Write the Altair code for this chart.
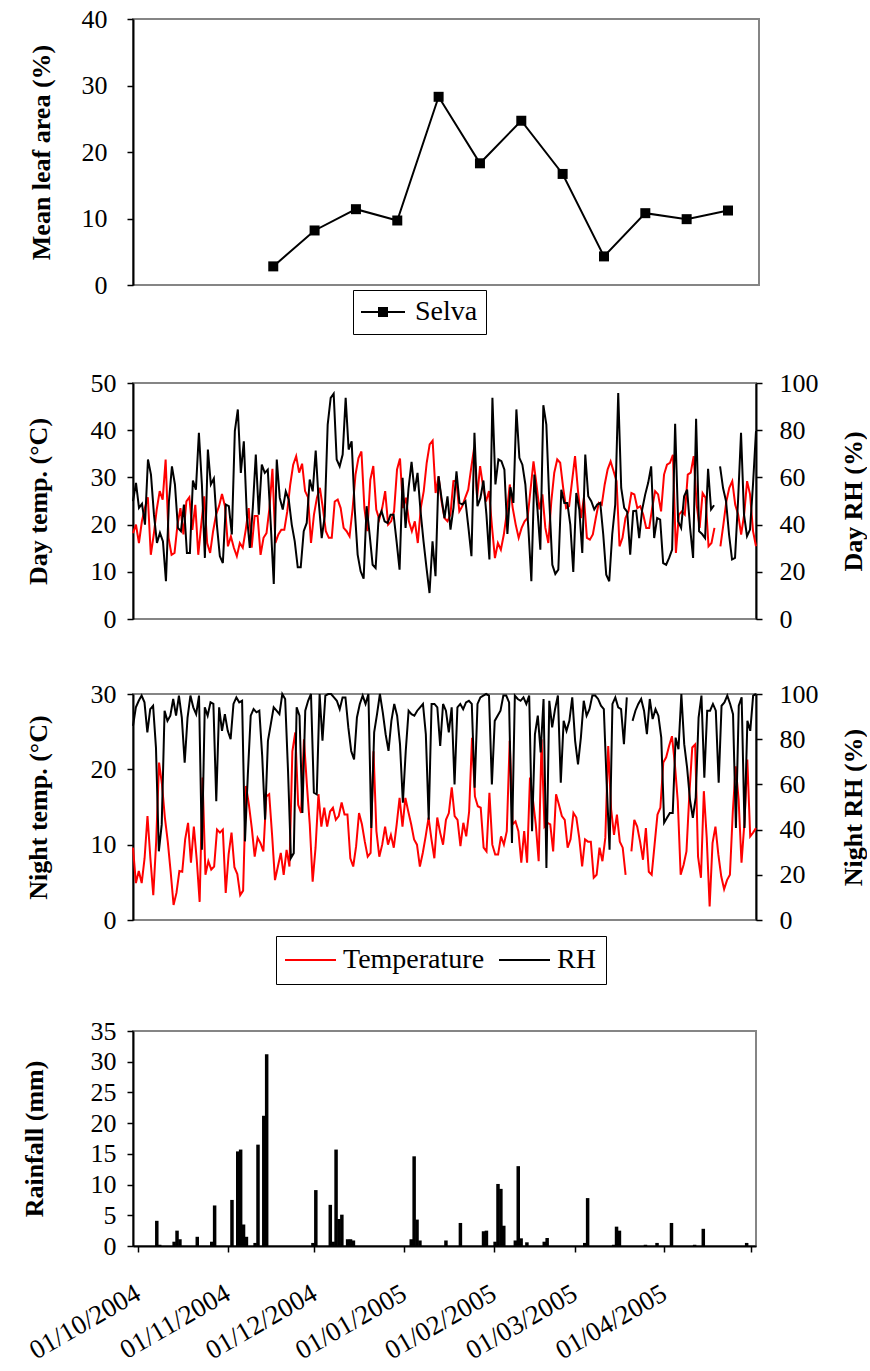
import altair as alt
import pandas as pd
import numpy as np

FONT = "Liberation Serif, Times New Roman, Times, serif"
START = pd.Timestamp("2004-10-01")
N_DAYS = 212

# ---------------- data ----------------
leaf_dates = ["2004-11-17", "2004-12-01", "2004-12-15", "2004-12-29", "2005-01-12", "2005-01-26",
              "2005-02-09", "2005-02-23", "2005-03-09", "2005-03-23", "2005-04-06", "2005-04-20"]
leaf_area = [2.8, 8.2, 11.4, 9.7, 28.3, 18.3, 24.7, 16.7, 4.3, 10.8, 9.9, 11.2]

day_temp = [
    18.2, 20.0, 16.1, 20.7, 23.5, 25.8, 13.6, 17.9, 23.2, 27.1,
    25.3, 33.8, 17.2, 13.6, 14.0, 20.0, 23.5, 17.9, 24.9, 25.8,
    18.9, 24.2, 13.6, 20.0, 26.0, 16.1, 14.0, 18.6, 22.1, 23.9,
    26.5, 23.9, 15.4, 17.5, 15.1, 13.3, 16.1, 15.1, 18.9, 23.5,
    15.1, 21.8, 21.8, 13.6, 17.2, 18.2, 23.5, 31.8, 16.1, 17.9,
    18.9, 18.9, 22.8, 28.5, 32.7, 34.5, 31.0, 32.9, 27.1, 25.8,
    16.1, 22.1, 25.7, 27.8, 23.5, 18.6, 17.2, 17.2, 24.9, 25.3,
    23.5, 19.3, 18.6, 17.5, 23.2, 30.6, 34.1, 35.5, 23.5, 18.6,
    29.5, 32.4, 23.2, 21.1, 23.5, 27.1, 20.0, 20.7, 22.8, 31.7,
    34.0, 23.5, 25.7, 20.7, 18.6, 20.7, 16.1, 23.5, 27.1, 33.1,
    37.0, 37.8, 26.7, 30.2, 24.9,
    21.4, 20.7, 22.1, 29.2, 29.3, 22.8, 23.9, 25.7, 27.4, 32.0,
    36.3, 25.7, 32.4, 28.1, 24.9, 27.1, 19.6, 12.9, 16.1, 14.7,
    17.9, 22.5, 28.5, 23.5, 20.0, 17.2, 19.3, 20.7, 21.4, 27.4,
    33.4, 28.5, 23.2, 26.4, 19.3, 16.1, 24.9, 31.0, 33.8, 33.1,
    27.8, 23.5, 23.9, 29.2, 34.5, 27.1, 21.4, 25.7, 17.2, 16.8,
    17.9, 21.4, 24.6, 24.2, 28.5, 31.7, 33.4, 31.3, 29.2, 15.4,
    17.2, 21.4, 22.8, 26.7, 26.4, 23.5, 23.9, 22.1, 19.3, 19.3,
    23.5, 27.1, 26.4, 22.8, 30.6, 32.7, 33.1, 34.8, 14.0, 22.1,
    22.8, 22.1, 30.6, 31.0, 34.5, 24.2, 19.3, 26.7, 25.7, 15.4,
    16.1, 19.3, None,
    15.4, 20.0, 24.9, 27.8, 29.2, 24.2, 22.1, 17.9, 22.1, 29.2, 26.4, 18.6, 15.4]

day_rh = [
    49.9, 57.7, 47.1, 48.8, 40.0, 67.6, 61.2, 44.2, 32.2, 36.5,
    32.9, 16.0, 49.9, 64.7, 57.0, 38.6, 37.2, 48.5, 28.0, 28.0,
    58.7, 54.8, 78.9, 57.0, 25.9, 71.8, 57.0, 59.5, 40.0, 26.6,
    23.7, 48.5, 47.8, 35.8, 79.6, 88.8, 61.9, 75.3, 44.2, 30.1,
    47.1, 69.7, 44.2, 65.4, 61.9, 63.3, 40.0, 14.8, 67.6, 51.3,
    46.4, 54.1, 50.6, 40.0, 32.9, 21.9, 21.9, 37.2, 40.7, 59.1,
    54.1, 71.4, 49.9, 34.3, 43.5, 82.4, 93.7, 95.5, 67.6, 64.7,
    69.7, 93.7, 71.8, 75.3, 47.1, 27.3, 20.2, 17.1, 47.8, 35.8,
    23.0, 21.6, 42.8, 45.7, 41.4, 40.7, 44.2, 44.2, 32.9, 20.9,
    59.8, 38.6, 55.5, 66.6, 54.1, 61.9, 45.7, 32.9, 21.6, 11.0,
    32.9, 18.1, 60.5,
    51.3, 42.8, 52.0, 37.9, 47.1, 62.6, 49.2, 48.5, 49.9, 38.6,
    26.6, 78.9, 47.8, 51.3, 58.7, 44.2, 25.2, 93.7, 57.0, 67.6,
    66.9, 63.3, 36.0, 55.8, 49.2, 88.8, 68.3, 65.4, 57.0, 38.6,
    16.0, 61.2, 47.1, 29.4, 90.6, 82.4, 49.9, 23.0, 19.1, 20.9,
    54.8, 49.2, 49.2, 40.0, 19.9, 53.4, 46.4, 28.0, 69.7, 52.0,
    49.9, 46.4, 48.5, 49.2, 35.8, 18.8, 16.0, 35.8, 48.5, 95.8,
    55.5, 47.1, 45.4, 27.3, 45.7, 45.9, 34.3, 46.4, 52.7, 57.7,
    64.7, 34.3, 42.8, 42.1, 23.7, 23.0, 25.9, 29.4, 82.7, 41.4,
    38.6, 52.0, 54.8, 38.6, 25.9, 84.8, 37.2, 36.0, 34.3, 63.6,
    46.4, 48.2, None,
    64.7, 55.5, 49.9, 35.8, 25.2, 25.9, 49.9, 78.9, 44.2, 35.1, 37.9, 57.0, 79.6]

night_temp = [
    9.6, 4.9, 6.5, 4.9, 8.2, 13.8, 8.2, 3.3, 10.4, 20.9,
    18.0, 13.6, 10.4, 6.4, 2.0, 3.6, 6.5, 6.4, 10.7, 12.9,
    7.6, 12.4, 8.0, 2.4, 18.9, 6.0, 7.8, 6.7, 7.1, 12.0,
    11.6, 12.0, 3.6, 8.7, 11.6, 7.0, 6.1, 3.3, 3.9, 17.8,
    15.3, 12.2, 8.4, 10.9, 10.2, 9.1, 16.4, 16.7, 11.3, 5.3,
    7.1, 8.9, 6.0, 9.3, 7.1, 22.4, 24.9, 15.3, 14.2, 24.0,
    18.0, 12.7, 5.1, 9.6, 16.7, 12.4, 14.9, 12.4, 14.4, 14.9,
    13.3, 13.8, 15.6, 14.0, 14.0, 8.2, 7.1, 9.8, 14.2, 12.7,
    10.4, 8.4, 8.9, 22.4, 11.8, 8.4, 10.0, 12.4, 10.0, 11.3,
    9.6, 12.7, 16.2, 12.4, 16.2, 14.4, 12.7, 10.7, 10.0, 7.1,
    8.9, 11.1, 13.6, 10.7, 8.2, 13.6, 11.6,
    10.0, 13.3, 14.2, 17.6, 13.8, 13.3, 9.8, 12.9, 11.1, 14.4,
    24.2, 16.4, 15.1, 14.9, 9.6, 9.1, 16.9, 10.0, 8.7, 8.7,
    11.1, 10.0, 11.8, 23.8, 12.7, 13.1, 11.8, 7.6, 11.8, 7.6,
    18.9, 16.0, 12.7, 7.8, 24.0, 12.4, 12.9, 12.7, 9.1, 16.7,
    15.3, 13.8, 13.3, 9.6, 10.7, 14.2, 13.6, 10.9, 7.1, 10.7,
    10.4, 10.4, 5.6, 6.0, 9.6, 7.8, 10.9, 23.1, 14.7, 11.3,
    14.0, 10.4, 9.6, 6.0, None,
    9.1, 13.3, 12.4, 10.4, 8.0, 12.2, 6.4, 6.0, 10.0, 14.0,
    14.9, 20.9, 21.6, 23.1, 24.4, 20.7, 15.8, 6.0, 7.3, 9.1,
    16.7, 22.9, 23.3, 8.4, 5.6, 17.1, 10.9, 1.8, 10.2, 12.4,
    8.7, 5.8, 4.1, 5.3, 6.0, 14.4, 20.4, 16.0, 7.6, 12.9,
    21.3, 11.1, 11.6, 12.2]

night_rh = [
    85.9, 94.1, 97.0, 99.3, 96.3, 83.0, 93.3, 94.8, 76.3, 30.4,
    42.2, 92.6, 88.1, 90.4, 97.8, 90.4, 99.3, 89.6, 69.6, 89.6,
    99.3, 94.1, 91.1, 99.3, 31.1, 94.1, 90.4, 96.3, 95.6, 52.6,
    94.1, 83.7, 91.1, 83.7, 80.0, 95.6, 98.5, 96.3, 97.0, 34.8,
    64.4, 90.4, 93.3, 91.9, 92.6, 72.6, 44.4, 79.3, 86.7, 94.1,
    92.6, 91.1, 100, 97.8, 65.9, 27.4, 29.6, 94.1, 90.4, 47.4,
    92.6, 97.0, 100, 56.3, 55.6, 100, 79.3, 99.3, 100, 100,
    98.5, 97.0, 93.3, 98.5, 98.5, 85.2, 74.8, 71.1, 89.6, 95.6,
    99.3, 95.6, 100, 40.7, 83.0, 91.1, 100, 91.9, 82.2, 74.8,
    88.1, 95.6, 90.4, 77.8, 51.9, 74.8, 92.6, 91.1, 90.4, 92.6,
    94.1, 95.6, 82.2, 44.4, 95.6, 95.6, 94.1, 77.0, 95.6,
    92.6, 83.0, 94.1, 60.0, 94.1, 95.6, 93.3, 96.3, 97.0, 95.6,
    58.5, 95.6, 98.5, 99.3, 100, 99.3, 60.0, 88.1, 90.4, 92.6,
    99.3, 99.3, 96.3, 34.1, 99.3, 97.8, 97.0, 98.5, 95.6, 99.3,
    39.3, 82.2, 90.4, 74.1, 97.8, 23.0, 97.0, 85.2, 93.3, 99.3,
    60.7, 88.1, 83.7, 88.1, 98.5, 79.3, 68.9, 80.7, 97.0, 90.4,
    93.3, 99.3, 99.3, 97.8, 94.8, 93.3, 60.0, 31.1, 95.6, 98.5,
    94.1, 93.3, 77.8, 98.5, None,
    88.1, 92.6, 95.6, 97.8, 92.6, 82.2, 97.8, 88.9, 93.3, 90.4,
    80.7, 43.0, 45.2, 47.4, 47.4, 80.7, 75.6, 100, 77.8, 67.4,
    53.3, 45.2, 54.1, 89.6, 99.3, 63.0, 92.6, 92.6, 95.6, 92.6,
    60.7, 94.8, 96.3, 99.3, 95.6, 91.1, 40.7, 94.8, 98.5, 40.7,
    88.1, 83.7, 99.3, 100]

rain_dates = ["2004-10-07", "2004-10-08", "2004-10-13", "2004-10-14", "2004-10-15", "2004-10-21",
              "2004-10-26", "2004-10-27", "2004-11-02", "2004-11-04", "2004-11-05", "2004-11-06",
              "2004-11-07", "2004-11-10", "2004-11-11", "2004-11-13", "2004-11-14", "2004-11-30",
              "2004-12-01", "2004-12-06", "2004-12-07", "2004-12-08", "2004-12-09", "2004-12-10",
              "2004-12-12", "2004-12-13", "2004-12-14", "2005-01-03", "2005-01-04", "2005-01-05",
              "2005-01-06", "2005-01-15", "2005-01-20", "2005-01-28", "2005-01-29", "2005-02-01",
              "2005-02-02", "2005-02-03", "2005-02-04", "2005-02-08", "2005-02-09", "2005-02-10",
              "2005-02-12", "2005-02-18", "2005-02-19", "2005-03-04", "2005-03-05", "2005-03-14",
              "2005-03-15", "2005-03-16", "2005-03-25", "2005-03-29", "2005-04-03", "2005-04-11",
              "2005-04-14", "2005-04-29"]
rain_mm = [4.1, 0.2, 0.7, 2.5, 1.1, 1.5, 0.7, 6.6, 7.5, 15.4, 15.7, 3.5, 1.5, 0.5, 16.5, 21.2, 31.2,
           0.5, 9.1, 6.7, 0.7, 15.7, 4.4, 5.1, 1.1, 1.1, 0.9, 1.1, 14.6, 4.3, 0.9, 0.9, 3.75, 2.4,
           2.5, 0.7, 10.1, 9.3, 3.3, 0.9, 13.0, 1.25, 0.6, 0.7, 1.3, 0.5, 7.8, 0.2, 3.15, 2.5, 0.2,
           0.5, 3.75, 0.2, 2.8, 0.5]

month_starts = ["2004-10-01", "2004-11-01", "2004-12-01", "2005-01-01", "2005-02-01",
                "2005-03-01", "2005-04-01", "2005-05-01"]
month_labels = ["01/10/2004", "01/11/2004", "01/12/2004", "01/01/2005", "01/02/2005",
                "01/03/2005", "01/04/2005", ""]


# ---------------- helpers ----------------
def days_since(dates):
    return [(pd.Timestamp(d) - START).days for d in dates]


def series_frame(values, name):
    n = len(values)
    df = pd.DataFrame({"v": pd.Series(values, dtype=float)})
    df["day"] = np.arange(n) * (N_DAYS - 1) / (n - 1)
    df["seg"] = df["v"].isna().cumsum()
    df = df.dropna().copy()
    df["series"] = name
    return df


LEFT = -132  # common left extent of every panel (keeps plot origins aligned)


def spacer(top, bottom):
    return alt.Chart(alt.Data(values=[{}])).mark_rule(opacity=0, strokeWidth=1).encode(
        x=alt.value(LEFT), y=alt.value(top), y2=alt.value(bottom))


# ---------------- panel 1 ----------------
leaf_df = pd.DataFrame({"day": [d + 0.5 for d in days_since(leaf_dates)],
                        "area": leaf_area, "grp": "Selva"})
x1 = alt.X("day:Q", scale=alt.Scale(domain=[0, N_DAYS], nice=False, zero=False), axis=None)
y1 = alt.Y("area:Q", scale=alt.Scale(domain=[0, 40], nice=False),
           axis=alt.Axis(values=[0, 10, 20, 30, 40], title="Mean leaf area (%)",
                         labelPadding=20, titlePadding=27))
line1 = alt.Chart(leaf_df).mark_line(color="black", strokeWidth=2).encode(x=x1, y=y1)
pts1 = alt.Chart(leaf_df).mark_square(size=100, opacity=1).encode(
    x=x1, y=y1,
    color=alt.Color("grp:N", scale=alt.Scale(domain=["Selva"], range=["black"]),
                    legend=alt.Legend(title=None, orient="none", legendX=220, legendY=271,
                                      strokeColor="black", fillColor="white", padding=8,
                                      labelFont=FONT, labelFontSize=28, labelColor="black",
                                      labelExpr="datum.label + '\u00a0'",
                                      symbolType="M-2.2,-0.1H2.2V0.1H-2.2Z M-0.5,-0.5H0.5V0.5H-0.5Z",
                                      symbolSize=400, symbolFillColor="black",
                                      symbolStrokeWidth=0, symbolOffset=8, labelOffset=18)))
p1 = alt.layer(line1, pts1, spacer(-18, 328)).properties(width=626, height=266)

# ---------------- panel 2 ----------------
dt_df = series_frame(day_temp, "Temperature")
dr_df = series_frame(day_rh, "RH")
x2 = alt.X("day:Q", scale=alt.Scale(domain=[0, N_DAYS - 1], nice=False, zero=False), axis=None)
t2 = alt.Chart(dt_df).mark_line(color="#FF0000", strokeWidth=2).encode(
    x=x2,
    y=alt.Y("v:Q", scale=alt.Scale(domain=[0, 50], nice=False),
            axis=alt.Axis(orient="left", values=[0, 10, 20, 30, 40, 50], title="Day temp. (°C)",
                          labelPadding=11, titlePadding=39)),
    detail="seg:N")
r2 = alt.Chart(dr_df).mark_line(color="black", strokeWidth=2).encode(
    x=x2,
    y=alt.Y("v:Q", scale=alt.Scale(domain=[0, 100], nice=False),
            axis=alt.Axis(orient="right", values=[0, 20, 40, 60, 80, 100], title="Day RH (%)",
                          labelPadding=17, titlePadding=22, titleAngle=270, titleBaseline="top")),
    detail="seg:N")
p2 = alt.layer(t2, r2, spacer(-34, 274)).resolve_scale(y="independent").properties(
    width=623, height=236)

# ---------------- panel 3 ----------------
nt_df = series_frame(night_temp, "Temperature")
nr_df = series_frame(night_rh, "RH")
col3 = alt.Color("series:N", scale=alt.Scale(domain=["Temperature", "RH"], range=["#FF0000", "black"]),
                 legend=alt.Legend(title=None, orient="none", direction="horizontal",
                                   legendX=143, legendY=242, strokeColor="black", fillColor="white",
                                   padding=10, labelFont=FONT, labelFontSize=28, labelColor="black",
                                   symbolType="M-5.1,0H5.1", symbolSize=100, symbolStrokeWidth=2,
                                   symbolOffset=10.5, labelOffset=18.5, columnPadding=10))
t3 = alt.Chart(nt_df).mark_line(strokeWidth=2).encode(
    x=x2,
    y=alt.Y("v:Q", scale=alt.Scale(domain=[0, 30], nice=False),
            axis=alt.Axis(orient="left", values=[0, 10, 20, 30], title="Night temp. (°C)",
                          labelPadding=11, titlePadding=39)),
    color=col3, detail="seg:N")
r3 = alt.Chart(nr_df).mark_line(strokeWidth=2).encode(
    x=x2,
    y=alt.Y("v:Q", scale=alt.Scale(domain=[0, 100], nice=False),
            axis=alt.Axis(orient="right", values=[0, 20, 40, 60, 80, 100], title="Night RH (%)",
                          labelPadding=17, titlePadding=22, titleAngle=270, titleBaseline="top")),
    color=col3, detail="seg:N")
p3 = alt.layer(t3, r3, spacer(-35, 303)).resolve_scale(y="independent").properties(
    width=623, height=226)

# ---------------- panel 4 ----------------
rain_df = pd.DataFrame({"day": [d + 0.5 for d in days_since(rain_dates)], "mm": rain_mm})
tick_days = days_since(month_starts)
label_expr = "[" + ",".join("'" + s + "'" for s in month_labels) + "][indexof([" + \
    ",".join(str(d) for d in tick_days) + "], datum.value)]"
x4 = alt.X("day:Q", scale=alt.Scale(domain=[0, N_DAYS], nice=False, zero=False),
           axis=alt.Axis(values=tick_days, labelExpr=label_expr, title=None, labelAngle=-30,
                         labelAlign="right", labelBaseline="middle", labelPadding=39,
                         labelFontSize=27, labelOverlap=False, labelFlush=False))
bars = alt.Chart(rain_df).mark_bar(size=3.5, color="black", orient="vertical").encode(
    x=x4,
    y=alt.Y("mm:Q", scale=alt.Scale(domain=[0, 35], nice=False),
            axis=alt.Axis(values=[0, 5, 10, 15, 20, 25, 30, 35], title="Rainfall (mm)",
                          labelPadding=11, titlePadding=43)))
p4 = alt.layer(bars, spacer(-32, 0)).properties(width=623, height=215)

chart = alt.vconcat(p1, p2, p3, p4, spacing=0).resolve_scale(
    x="independent", y="independent", color="independent").resolve_legend(
    color="independent").properties(padding=0, background="white").configure_view(
    stroke="#858585", strokeWidth=2).configure_axis(
    labelFont=FONT, labelFontSize=26, labelColor="black", titleFont=FONT, titleFontSize=26,
    titleFontWeight="bold", titleColor="black", domainColor="black", domainWidth=2,
    tickColor="black", tickWidth=1.5, tickSize=6, grid=False)

chart.save("out.html", embed_options={"renderer": "svg", "actions": False})
